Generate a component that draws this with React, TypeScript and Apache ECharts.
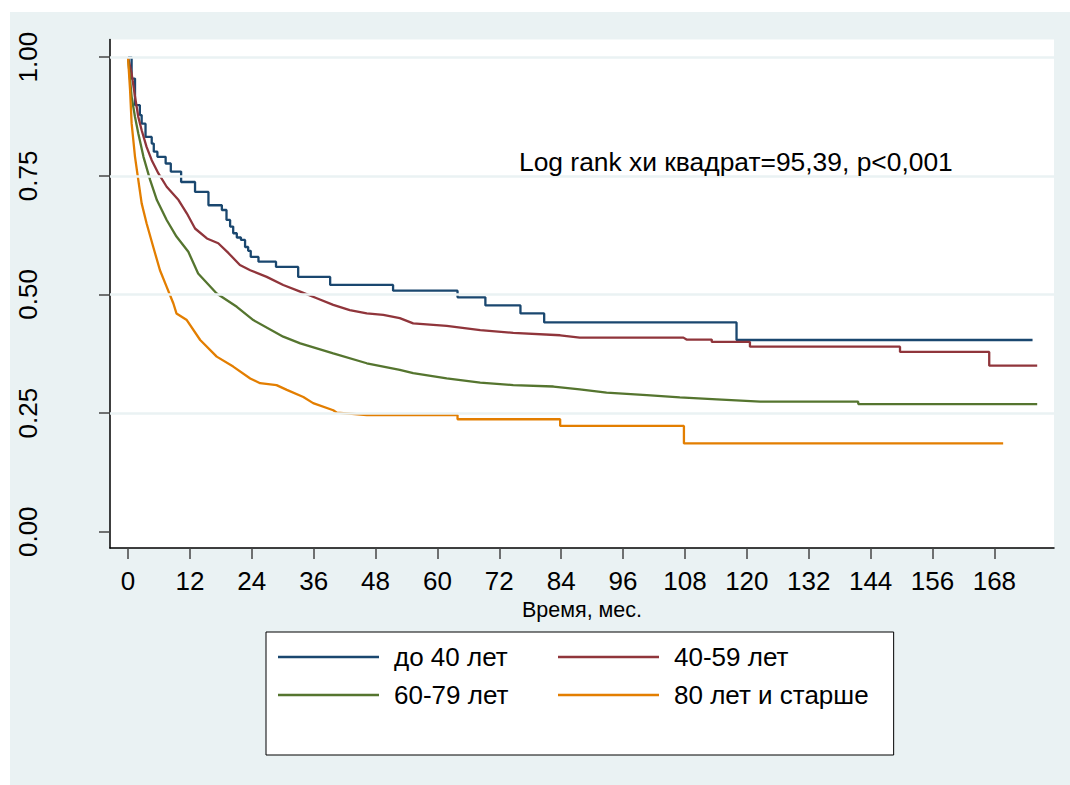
import React, { useEffect, useRef } from "react";
import * as echarts from "echarts";

const xTicks = [0, 12, 24, 36, 48, 60, 72, 84, 96, 108, 120, 132, 144, 156, 168];
const yTicks = [0, 0.25, 0.5, 0.75, 1];
const gridValues = [0.25, 0.5, 0.75, 1];
const seriesNames = ["до 40 лет", "40-59 лет", "60-79 лет", "80 лет и старше"];
const seriesColors = ["#1a476f", "#90353b", "#55752f", "#e37e00"];
const annotation = "Log rank хи квадрат=95,39, p<0,001";
const xTitle = "Время, мес.";

// до 40 лет (KM step points: time, survival)
const under40: [number, number][] = [
  [0, 1], [0.7, 0.955], [1.36, 0.899], [2.3, 0.878], [2.65, 0.86], [3.4, 0.832],
  [4.6, 0.818], [5.0, 0.801], [5.7, 0.79], [7.3, 0.776], [8.3, 0.759], [10.3, 0.737],
  [13.0, 0.716], [15.6, 0.688], [18.2, 0.678], [19.1, 0.657], [19.8, 0.643],
  [20.4, 0.629], [21.1, 0.62], [21.9, 0.615], [22.7, 0.6], [23.3, 0.592],
  [23.8, 0.579], [25.3, 0.569], [28.7, 0.558], [33.0, 0.537], [39.2, 0.52],
  [51.4, 0.508], [63.9, 0.494], [69.3, 0.477], [76.1, 0.46], [80.7, 0.441],
  [118.0, 0.404], [175.4, 0.404],
];

// 40-59 лет
const age40to59: [number, number][] = [
  [0, 1], [0.7, 0.966], [1.36, 0.917], [2.0, 0.874], [2.65, 0.846], [3.6, 0.811],
  [4.6, 0.783], [5.9, 0.755], [7.5, 0.727], [9.8, 0.699], [11.4, 0.671], [13.0, 0.639],
  [15.3, 0.618], [17.5, 0.608], [19.5, 0.587], [21.7, 0.562], [23.7, 0.551],
  [26.9, 0.537], [30.1, 0.52], [33.4, 0.506], [36.6, 0.492], [39.8, 0.478],
  [43.0, 0.467], [46.3, 0.46], [49.5, 0.457], [52.7, 0.45], [55.3, 0.439],
  [61.8, 0.434], [68.3, 0.425], [74.7, 0.419], [83.8, 0.414], [87.6, 0.409],
  [107.7, 0.409], [108.3, 0.405], [113.2, 0.405], [113.2, 0.4], [120.6, 0.4],
  [120.6, 0.39], [149.7, 0.39], [149.7, 0.379], [167.0, 0.379], [167.0, 0.35],
  [176.3, 0.35],
];

// 60-79 лет
const age60to79: [number, number][] = [
  [0, 1], [0.7, 0.917], [1.36, 0.874], [2.0, 0.839], [3.0, 0.79], [4.3, 0.741],
  [5.6, 0.699], [7.5, 0.657], [9.4, 0.622], [11.7, 0.59], [13.6, 0.544],
  [17.2, 0.502], [21.1, 0.474], [24.3, 0.446], [30.1, 0.411], [33.4, 0.397],
  [39.8, 0.376], [46.3, 0.355], [52.7, 0.341], [55.3, 0.334], [61.8, 0.323],
  [68.3, 0.314], [74.7, 0.309], [82.5, 0.306], [87.6, 0.3], [92.8, 0.293],
  [100.6, 0.288], [107.0, 0.283], [114.2, 0.279], [122.6, 0.274], [141.6, 0.274],
  [141.6, 0.269], [176.3, 0.269],
];

// 80 лет и старше
const age80plus: [number, number][] = [
  [0, 1], [0.4, 0.931], [0.7, 0.861], [1.36, 0.79], [2.0, 0.741], [2.65, 0.692],
  [3.6, 0.65], [4.9, 0.6], [6.2, 0.551], [7.5, 0.516], [8.8, 0.481], [9.4, 0.46],
  [11.4, 0.446], [14.0, 0.404], [17.2, 0.369], [20.4, 0.348], [23.7, 0.323],
  [25.6, 0.313], [28.8, 0.309], [30.8, 0.299], [34.0, 0.284], [35.9, 0.271],
  [39.8, 0.256], [40.5, 0.251], [46.3, 0.246], [63.9, 0.246], [63.9, 0.237],
  [83.8, 0.237], [83.8, 0.223], [107.8, 0.223], [107.8, 0.186], [169.7, 0.186],
];

const FONT = "'Liberation Sans', Arial, Helvetica, sans-serif";

export default function App() {
  const ref = useRef<HTMLDivElement>(null);
  useEffect(() => {
    if (!ref.current) return;
    const chart = echarts.init(ref.current, undefined, { renderer: "svg" });
    const dataSets = [under40, age40to59, age60to79, age80plus];
    const option: any = {
      animation: false,
      backgroundColor: "#ffffff",
      textStyle: { fontFamily: FONT },
      graphic: [
        {
          type: "rect",
          z: -100,
          silent: true,
          shape: { x: 10, y: 12, width: 1060, height: 773 },
          style: { fill: "#eaf2f3" },
        },
        {
          type: "text",
          z: 100,
          x: 519,
          y: 162,
          style: {
            text: annotation,
            fontSize: 26.4,
            fontFamily: FONT,
            fill: "#000",
            verticalAlign: "middle",
            align: "left",
          },
        },
      ],
      grid: {
        left: 110,
        right: 16,
        top: 39.5,
        bottom: 237,
        show: true,
        backgroundColor: "#ffffff",
        borderWidth: 0,
      },
      xAxis: {
        type: "value",
        min: -3.49,
        max: 179.56,
        name: xTitle,
        nameLocation: "middle",
        nameGap: 57,
        nameTextStyle: { fontSize: 21.5, color: "#000", fontFamily: FONT, verticalAlign: "middle" },
        axisLine: { show: true, onZero: false, lineStyle: { color: "#000", width: 1.5 } },
        axisTick: { show: true, customValues: xTicks, length: 11, lineStyle: { color: "#444", width: 1.5 } },
        axisLabel: {
          customValues: xTicks,
          fontSize: 26,
          color: "#000",
          fontFamily: FONT,
          margin: 33,
          verticalAlign: "middle",
        },
        splitLine: { show: false },
      },
      yAxis: {
        type: "value",
        min: -0.0343,
        max: 1.0373,
        axisLine: { show: true, onZero: false, lineStyle: { color: "#000", width: 1.5 } },
        axisTick: { show: true, customValues: yTicks, length: 11, lineStyle: { color: "#444", width: 1.5 } },
        axisLabel: {
          customValues: yTicks,
          rotate: 90,
          fontSize: 26,
          color: "#000",
          fontFamily: FONT,
          margin: 82,
          align: "center",
          verticalAlign: "middle",
          formatter: (v: number) => v.toFixed(2),
        },
        splitLine: { show: false },
      },
      legend: {
        left: 266,
        top: 632,
        width: 625,
        orient: "horizontal",
        padding: [12, 25, 47, 12],
        itemGap: 12,
        itemWidth: 101,
        itemHeight: 2.6,
        icon: "rect",
        backgroundColor: "#ffffff",
        borderColor: "#000",
        borderWidth: 1,
        borderRadius: 0,
        selectedMode: false,
        data: seriesNames,
        textStyle: {
          fontSize: 26,
          color: "#000",
          fontFamily: FONT,
          width: 152,
          lineHeight: 26,
          padding: [0, 0, 0, 10],
        },
      },
      series: [
        {
          type: "line",
          name: "_grid",
          data: [],
          z: 1,
          silent: true,
          markLine: {
            silent: true,
            symbol: ["none", "none"],
            label: { show: false },
            lineStyle: { color: "#eaf2f3", width: 2.5, type: "solid" },
            data: gridValues.map((v) => ({ yAxis: v })),
          },
        },
        ...dataSets.map((d, i) => ({
          type: "line",
          name: seriesNames[i],
          data: d,
          step: i === 0 ? "end" : false,
          showSymbol: false,
          symbol: "none",
          z: 3,
          color: seriesColors[i],
          lineStyle: { color: seriesColors[i], width: 2.3 },
          itemStyle: { color: seriesColors[i] },
        })),
      ],
    };
    chart.setOption(option);
    return () => chart.dispose();
  }, []);
  return (
    <div
      ref={ref}
      style={{ position: "absolute", left: 0, top: 0, width: 1070, height: 785 }}
    />
  );
}
